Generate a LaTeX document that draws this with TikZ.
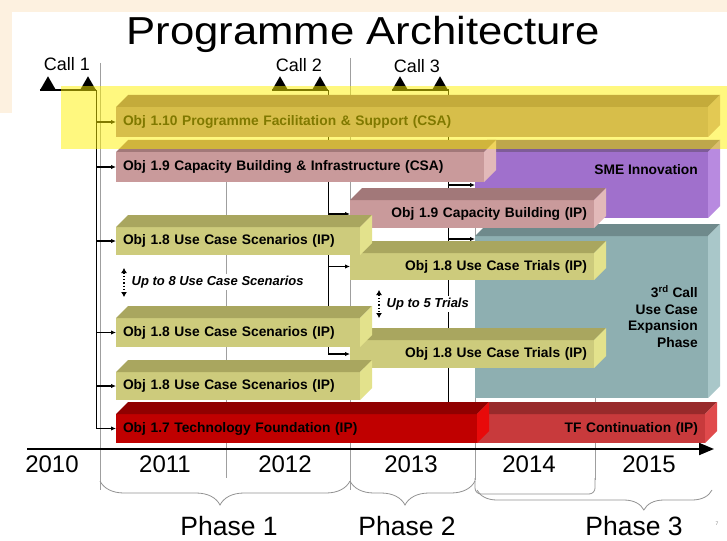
\documentclass[tikz,border=0pt]{standalone}
\usepackage{fontspec}
\setmainfont{Liberation Sans}
\usetikzlibrary{arrows.meta,shapes.geometric,decorations.pathreplacing,backgrounds}

% bar colours: F front, T top, S side
\definecolor{khakiF}{HTML}{CDCB7C}
\definecolor{khakiT}{HTML}{A9A65F}
\definecolor{khakiS}{HTML}{E3E28C}
\definecolor{pinkF}{HTML}{C99A9B}
\definecolor{pinkT}{HTML}{A27879}
\definecolor{pinkS}{HTML}{E2B9B9}
\definecolor{goldF}{HTML}{B08A96}
\definecolor{goldT}{HTML}{8A6478}
\definecolor{goldS}{HTML}{C8A0A8}
\definecolor{purpF}{HTML}{A070CC}
\definecolor{purpT}{HTML}{7E5C98}
\definecolor{purpS}{HTML}{B88AE0}
\definecolor{tealF}{HTML}{8EAFB1}
\definecolor{tealT}{HTML}{6F8A8C}
\definecolor{tealS}{HTML}{A9C7C9}
\definecolor{redF}{HTML}{C00000}
\definecolor{redT}{HTML}{900000}
\definecolor{redS}{HTML}{E80A0A}
\definecolor{tfF}{HTML}{C83A3C}
\definecolor{tfT}{HTML}{982A2B}
\definecolor{tfS}{HTML}{E04A4C}
\definecolor{peach}{HTML}{FDF1E0}

\tikzset{objfront/.style={anchor=north west, inner xsep=7pt, inner ysep=0pt, outer sep=0pt,
    font=\fontsize{13.8}{16}\selectfont\bfseries},
objtext/.style={inner sep=0pt, font=\fontsize{13.8}{16.7}\selectfont\bfseries},
calltri/.style={regular polygon, regular polygon sides=3, fill=black, minimum size=18pt, inner sep=0pt, anchor=south},
callline/.style={line width=1.2pt},
callarrow/.style={line width=1.2pt, -{Latex[length=5pt,width=4.5pt]}},
yearline/.style={draw=gray!75, line width=0.8pt},
uparrow/.style={dotted, line width=1.3pt, {Latex[length=5pt,width=6pt]}-{Latex[length=5pt,width=6pt]}},
uptext/.style={anchor=west, fill=white, inner sep=1.5pt, font=\fontsize{13}{14}\selectfont\bfseries\itshape},
phasebrace/.style={decorate, decoration={brace, mirror, amplitude=#1}, draw=gray!85, line width=0.8pt}}

% 3d bar: name, left, top, width, height, colour, align, text
\newcommand{\objbar}[8]{%
  \pgfmathsetmacro{\objtw}{#4-14}
  \node[objfront, fill=#6F, minimum width=#4, minimum height=#5, text width=\objtw pt, align=#7] (#1) at (#2,#3) {#8};
  \fill[#6T] (#1.north west) -- ++(12,-12) -- ([shift={(12,-12)}]#1.north east) -- (#1.north east) -- cycle;
  \fill[#6S] (#1.north east) -- ++(12,-12) -- ([shift={(12,-12)}]#1.south east) -- (#1.south east) -- cycle;
}

\begin{document}
\begin{tikzpicture}[x=1pt,y=-1pt]
\useasboundingbox (0,0) rectangle (727,540);

\node[font=\fontsize{39}{44}\selectfont\addfontfeature{FakeStretch=1.12}, anchor=base, inner sep=0pt] (title) at (363,45) {Programme Architecture};

% calls
\node[calltri] (c1a) at (48,90) {};
\node[calltri] (c1b) at (88,90) {};
\node[calltri] (c2a) at (280,90) {};
\node[calltri] (c2b) at (320,90) {};
\node[calltri] (c3a) at (400,90) {};
\node[calltri] (c3b) at (440,90) {};
\node[font=\fontsize{18}{20}\selectfont, anchor=base] (call1) at (67,71) {Call 1};
\node[font=\fontsize{18}{20}\selectfont, anchor=base] (call2) at (299,72) {Call 2};
\node[font=\fontsize{18}{20}\selectfont, anchor=base] (call3) at (417,73) {Call 3};

% bars, back to front
\objbar{sme}{475}{152}{233}{66}{purp}{right}{}
\node[objtext, anchor=east] (smetext) at (698,170) {SME Innovation};
\objbar{expn}{475}{236}{233}{162}{teal}{right}{}
\node[objtext, anchor=north east, align=right] (expntext) at (698,285) {3\textsuperscript{rd} Call\\Use Case\\Expansion\\Phase};
\objbar{tfc}{477}{414}{228}{29}{tf}{right}{TF Continuation (IP)}
\objbar{o19ip}{350}{200}{244}{28}{pink}{right}{Obj 1.9 Capacity Building (IP)}
\objbar{trials1}{350}{253}{244}{27}{khaki}{right}{Obj 1.8 Use Case Trials (IP)}
\objbar{trials2}{350}{340}{244}{28}{khaki}{right}{Obj 1.8 Use Case Trials (IP)}
\objbar{scen1}{116}{227}{244}{28}{khaki}{left}{Obj 1.8 Use Case Scenarios (IP)}
\objbar{scen2}{116}{318}{244}{29}{khaki}{left}{Obj 1.8 Use Case Scenarios (IP)}
\objbar{scen3}{116}{372}{244}{28}{khaki}{left}{Obj 1.8 Use Case Scenarios (IP)}
\objbar{o19csa}{116}{152}{368}{30}{pink}{left}{Obj 1.9 Capacity Building \& Infrastructure (CSA)}
\objbar{o110}{116}{107}{592}{30}{gold}{left}{Obj 1.10 Programme Facilitation \& Support (CSA)}
\objbar{o17}{116}{414}{361}{29}{red}{left}{Obj 1.7 Technology Foundation (IP)}

% up to ...
\coordinate (u8a) at (124,268);
\coordinate (u8b) at (124,297);
\draw[uparrow] (u8a) -- (u8b);
\node[uptext] (u8) at (130,282) {Up to 8 Use Case Scenarios};
\coordinate (u5a) at (379,290);
\coordinate (u5b) at (379,318);
\draw[uparrow] (u5a) -- (u5b);
\node[uptext] (u5) at (385,304) {Up to 5 Trials};

\begin{scope}[on background layer]
\fill[white] (0,0) rectangle (727,540);
\fill[peach] (0,0) rectangle (727,12);
\fill[peach] (0,0) rectangle (12,113);
% year lines
\draw[yearline] (100,63) -- (100,490);
\draw[yearline] (226,140) -- (226,478);
\draw[yearline] (350,58) -- (350,490);
\draw[yearline] (475,140) -- (475,480);
\draw[yearline] (595,140) -- (595,480);
% call 1
\draw[callline] (c1a.corner 2) -- (c1b.corner 3);
\draw[callarrow] (c1b.corner 3) |- (o17.west);
\foreach \b in {o110,o19csa,scen1,scen2,scen3}
  \draw[callarrow] (c1b.corner 3 |- \b.west) -- (\b.west);
% call 2
\draw[callline] (c2a.corner 2) -- (c2b.corner 3);
\draw[callarrow] (c2b.corner 3) |- (trials2.west);
\foreach \b in {o19ip,trials1}
  \draw[callarrow] (c2b.corner 3 |- \b.west) -- (\b.west);
% call 3
\draw[callline] (c3a.corner 2) -- (c3b.corner 3) -- (c3b.corner 3 |- o17.north);
\draw[callarrow] (c3b.corner 3 |- sme.west) -- (sme.west);
\draw[callarrow] ([yshift=-3pt]c3b.corner 3 |- expn.north) -- ([yshift=-3pt]expn.north west);
\end{scope}

% highlight
\fill[yellow, opacity=0.5] (61,86) rectangle (727,149);

% time axis
\coordinate (axs) at (27,449);
\coordinate (axe) at (714,449);
\draw[line width=2pt, -{Triangle[length=15pt,width=12pt]}] (axs) -- (axe);
\foreach \yr/\xx in {2010/52,2011/165,2012/285,2013/411,2014/529,2015/649}
  \node[font=\fontsize{24}{26}\selectfont, anchor=base] (y\yr) at (\xx,472) {\yr};

% phases
\draw[phasebrace=24pt, decoration={aspect=0.48}] (100,481) -- (350,481);
\draw[phasebrace=24pt, decoration={aspect=0.44}] (350,481) -- (475,481);
\draw[gray!85, line width=0.8pt, rounded corners=6] (475,478) -- (475,494) -- (595,494) -- (595,478);
\draw[phasebrace=20pt, decoration={aspect=0.71}] (477,490) -- (712,490);
\foreach \ph/\xx in {1/229,2/407,3/634}
  \node[font=\fontsize{26.5}{28}\selectfont, anchor=base, inner sep=0pt] (ph\ph) at (\xx,535) {Phase \ph};
\node[font=\fontsize{5}{6}\selectfont, text=gray] (pagenum) at (717,524) {7};

\end{tikzpicture}
\end{document}
